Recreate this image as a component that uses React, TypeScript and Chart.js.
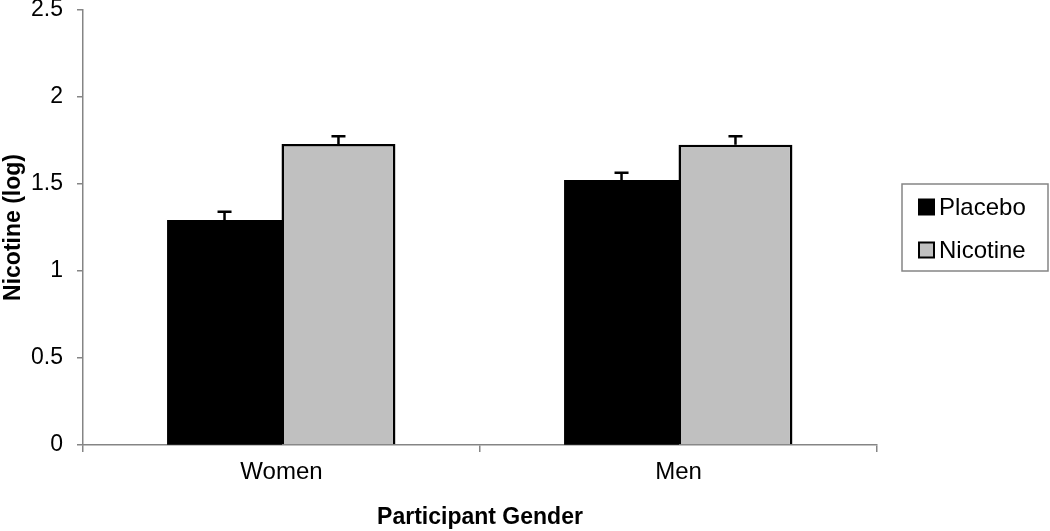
import React, { useEffect, useRef } from "react";
import { Chart, registerables } from "chart.js";

Chart.register(...registerables);

const categories = ["Women", "Men"];
const seriesLabels = ["Placebo", "Nicotine"];
const placeboValues = [1.29, 1.52];
const nicotineValues = [1.73, 1.725];
const placeboErrors = [0.05, 0.045];
const nicotineErrors = [0.045, 0.05];
const yTicks = [0, 0.5, 1, 1.5, 2, 2.5];
const yTickLabels = ["0", "0.5", "1", "1.5", "2", "2.5"];

const FONT = "'Liberation Sans', Arial, sans-serif";
const AXIS_GRAY = "#858585";

const errorBarPlugin = {
  id: "errorBars",
  afterDatasetsDraw(chart: any) {
    const ctx = chart.ctx;
    const yScale = chart.scales.y;
    chart.data.datasets.forEach((ds: any, di: number) => {
      const meta = chart.getDatasetMeta(di);
      const errs = ds.errors || [];
      meta.data.forEach((bar: any, i: number) => {
        const v = ds.data[i];
        const e = errs[i] || 0;
        const x = bar.x;
        const yTop = yScale.getPixelForValue(v);
        const yErr = yScale.getPixelForValue(v + e);
        ctx.save();
        ctx.strokeStyle = "#000";
        ctx.lineWidth = 2.5;
        ctx.beginPath();
        ctx.moveTo(x, yTop);
        ctx.lineTo(x, yErr);
        ctx.moveTo(x - 7, yErr);
        ctx.lineTo(x + 7, yErr);
        ctx.stroke();
        ctx.restore();
      });
    });
  },
};

const legendBoxPlugin = {
  id: "legendBox",
  afterDraw(chart: any) {
    const ctx = chart.ctx;
    const left = 902;
    const top = 184;
    const w = 146;
    const h = 87;
    ctx.save();
    ctx.strokeStyle = AXIS_GRAY;
    ctx.lineWidth = 1.5;
    ctx.strokeRect(left, top, w, h);
    const rowY = [207, 250];
    chart.data.datasets.forEach((ds: any, di: number) => {
      const cy = rowY[di];
      ctx.fillStyle = ds.backgroundColor;
      ctx.fillRect(919, cy - 7.5, 15, 15);
      ctx.strokeStyle = "#000";
      ctx.lineWidth = 2;
      ctx.strokeRect(919, cy - 7.5, 15, 15);
      ctx.fillStyle = "#000";
      ctx.font = `24px ${FONT}`;
      ctx.textBaseline = "middle";
      ctx.textAlign = "left";
      ctx.fillText(ds.label, 939, cy + 1);
    });
    ctx.restore();
  },
};

export default function App() {
  const canvasRef = useRef<HTMLCanvasElement | null>(null);

  useEffect(() => {
    document.body.style.margin = "0";
    const canvas = canvasRef.current;
    if (!canvas) return;
    const chart = new Chart(canvas, {
      type: "bar",
      data: {
        labels: categories,
        datasets: [
          {
            label: seriesLabels[0],
            data: placeboValues,
            errors: placeboErrors,
            backgroundColor: "#000000",
            borderColor: "#000000",
            borderWidth: 0,
            inflateAmount: 0.5,
            categoryPercentage: 0.574,
            barPercentage: 1.0,
          } as any,
          {
            label: seriesLabels[1],
            data: nicotineValues,
            errors: nicotineErrors,
            backgroundColor: "#C0C0C0",
            borderColor: "#000000",
            borderWidth: 2.5,
            categoryPercentage: 0.574,
            barPercentage: 1.0,
          } as any,
        ],
      },
      options: {
        animation: false,
        responsive: false,
        maintainAspectRatio: false,
        layout: { padding: { left: 0, right: 173, top: 0, bottom: 0 } },
        plugins: {
          legend: { display: false },
          tooltip: { enabled: false },
        },
        scales: {
          x: {
            type: "category",
            offset: true,
            grid: {
              offset: true,
              drawOnChartArea: false,
              drawTicks: true,
              tickLength: 7,
              color: AXIS_GRAY,
              lineWidth: 1.5,
            },
            border: { display: true, color: AXIS_GRAY, width: 1.5 },
            ticks: {
              color: "#000",
              font: { family: FONT, size: 24 },
              padding: 6,
            },
            title: {
              display: true,
              text: "Participant Gender",
              color: "#000",
              font: { family: FONT, size: 23, weight: "bold" },
              padding: 0,
            },
            afterFit(scale: any) {
              scale.height = 86;
            },
          },
          y: {
            min: 0,
            max: 2.5,
            afterBuildTicks(scale: any) {
              scale.ticks = yTicks.map((v) => ({ value: v }));
            },
            grid: {
              drawOnChartArea: false,
              drawTicks: true,
              tickLength: 6,
              color: AXIS_GRAY,
              lineWidth: 1.5,
            },
            border: { display: true, color: AXIS_GRAY, width: 1.5 },
            ticks: {
              color: "#000",
              font: { family: FONT, size: 23 },
              padding: 14,
              callback: (_v: any, i: number) => yTickLabels[i],
            },
            title: {
              display: true,
              text: "Nicotine (log)",
              color: "#000",
              font: { family: FONT, size: 23, weight: "bold" },
              padding: 0,
            },
            afterFit(scale: any) {
              scale.width = 83;
              scale.paddingTop = 10;
              scale.paddingBottom = 0;
            },
          },
        },
      } as any,
      plugins: [errorBarPlugin, legendBoxPlugin],
    });
    return () => {
      chart.destroy();
    };
  }, []);

  return (
    <div style={{ width: 1050, height: 531, position: "relative" }}>
      <canvas ref={canvasRef} width={1050} height={531} style={{ display: "block" }} />
    </div>
  );
}
